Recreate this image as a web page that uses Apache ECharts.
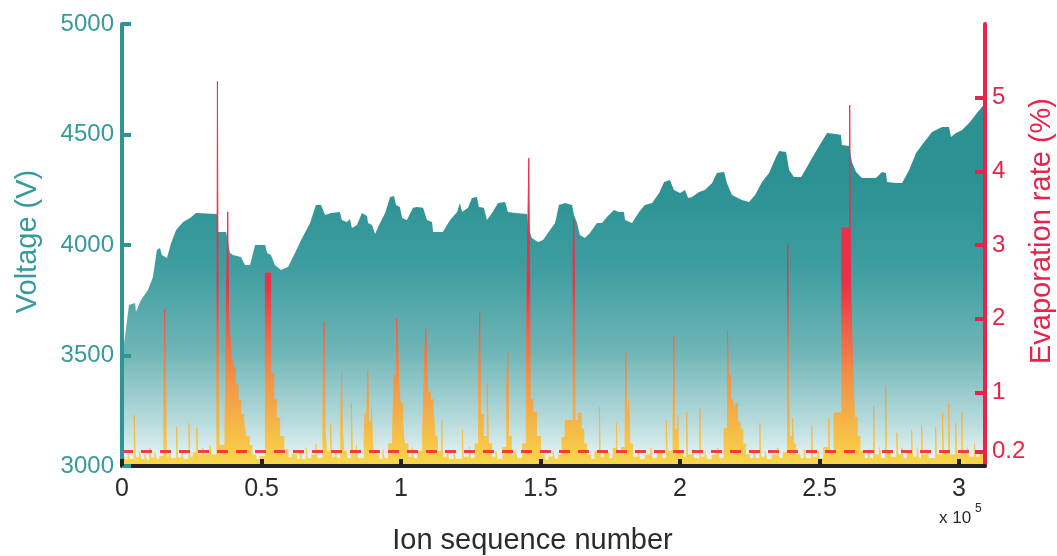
<!DOCTYPE html>
<html>
<head>
<meta charset="UTF-8">
<title>Voltage and evaporation rate</title>
<script src="https://cdn.jsdelivr.net/npm/echarts@6/dist/echarts.min.js"></script>
<style>
  html, body { margin: 0; padding: 0; background: #fff; }
  #main { width: 1057px; height: 556px; }
</style>
</head>
<body>
<div id="main"></div>
<script>
// ion number in thousands, voltage in V
var voltage = [
  [0, 3490], [0.9, 3570], [2.5, 3729], [4.7, 3738], [5.0, 3697], [6.8, 3751], [9.3, 3796],
  [11.1, 3855], [12.5, 3977], [13.6, 3986], [14.3, 3955], [16.1, 3941], [17.6, 4009],
  [19.4, 4068], [21.9, 4104], [24.4, 4122], [26.5, 4145], [34.0, 4140], [34.4, 4059],
  [37.3, 4059], [38.7, 3964], [39.8, 3955], [42.6, 3946], [44.1, 3910], [45.9, 3910],
  [47.7, 4000], [51.3, 4000], [52.0, 3964], [53.4, 3955], [54.8, 3910], [57.0, 3887],
  [59.5, 3900], [62.0, 3964], [64.2, 4023], [67.4, 4100], [69.5, 4181], [71.3, 4181],
  [72.8, 4136], [74.9, 4145], [78.1, 4149], [78.8, 4113], [80.6, 4104], [81.7, 4118],
  [82.4, 4077], [84.2, 4090], [86.0, 4145], [87.8, 4131], [88.2, 4100], [89.6, 4090],
  [90.7, 4050], [91.8, 4082], [94.3, 4145], [96.1, 4217], [97.5, 4222], [98.2, 4181],
  [99.6, 4172], [100.4, 4122], [102.1, 4113], [104.3, 4168], [105.7, 4172], [107.9, 4168],
  [109.3, 4113], [111.1, 4104], [111.5, 4059], [115.0, 4059], [117.6, 4113], [120.1, 4149],
  [121.1, 4190], [121.9, 4149], [124.0, 4168], [125.4, 4213], [127.2, 4217], [127.9, 4172],
  [129.7, 4168], [130.8, 4113], [132.6, 4145], [134.8, 4190], [137.3, 4195], [138.3, 4149],
  [140.9, 4145], [145.2, 4140], [145.5, 4082], [146.9, 4032], [149.1, 4014], [150.9, 4023],
  [153.4, 4068], [155.2, 4100], [156.6, 4181], [158.8, 4190], [161.3, 4181], [162.0, 4136],
  [163.1, 4100], [164.1, 4045], [165.9, 4032], [167.7, 4054], [170.2, 4100], [172.0, 4100],
  [173.8, 4127], [176.3, 4158], [178.1, 4149], [179.9, 4149], [180.3, 4113], [182.8, 4100],
  [185.3, 4149], [187.4, 4181], [190.0, 4190], [192.5, 4235], [194.3, 4285], [196.4, 4294],
  [197.8, 4249], [200.0, 4235], [201.8, 4249], [202.9, 4213], [204.3, 4217], [206.8, 4240],
  [208.9, 4249], [211.5, 4281], [213.2, 4326], [215.8, 4330], [216.8, 4281], [218.6, 4226],
  [222.2, 4204], [224.7, 4195], [226.9, 4226], [229.4, 4285], [231.9, 4326], [234.4, 4398],
  [235.5, 4425], [238.0, 4421], [239.1, 4339], [240.8, 4308], [243.4, 4308], [245.5, 4353],
  [247.3, 4394], [250.5, 4462], [252.7, 4507], [255.9, 4502], [257.7, 4498], [258.0, 4453],
  [260.6, 4448], [261.6, 4376], [263.1, 4330], [265.2, 4303], [270.2, 4303], [272.4, 4330],
  [273.8, 4326], [274.2, 4285], [277.4, 4281], [279.6, 4281], [282.1, 4339], [284.6, 4416],
  [286.7, 4453], [290.3, 4511], [293.9, 4534], [296.4, 4534], [297.1, 4489], [298.9, 4507],
  [301.1, 4520], [303.6, 4552], [306.4, 4597], [308.2, 4625], [309.3, 4643]
];

// ion number in thousands, evaporation rate in % (each value holds until the next ion number)
var evapRate = [
  [0, 0.08], [0.5, 0.14], [1.2, 0.08], [2.2, 0.16], [2.6, 0.09], [4.4, 0.69], [4.8, 0.11],
  [6.3, 0.2], [6.7, 0.09], [8.2, 0.15], [8.8, 0.08], [10.0, 0.24], [10.4, 0.11], [11.8, 0.18],
  [12.3, 0.09], [13.5, 0.13], [15.0, 1.34], [15.3, 2.13], [15.6, 1.34], [15.9, 0.12],
  [17.0, 0.22], [17.4, 0.1], [19.6, 0.53], [19.9, 0.11], [21.5, 0.2], [21.9, 0.09],
  [24.0, 0.58], [24.3, 0.12], [25.5, 0.18], [26.8, 0.51], [27.1, 0.15], [29.0, 0.24],
  [29.4, 0.15], [31.5, 0.28], [31.9, 0.15], [34.0, 1.39], [34.2, 5.22], [34.5, 1.39],
  [34.8, 0.28], [36.9, 0.5], [37.6, 2.65], [37.9, 3.45], [38.2, 2.08], [38.6, 1.8],
  [39.2, 1.5], [39.8, 1.34], [40.6, 1.1], [41.6, 0.89], [42.6, 0.7], [43.6, 0.62],
  [44.0, 0.5], [44.6, 0.4], [45.6, 0.28], [46.6, 0.15], [48.0, 0.09], [49.5, 0.13],
  [51.4, 2.62], [53.3, 1.26], [54.4, 0.9], [55.3, 0.65], [56.5, 0.4], [58.0, 0.22],
  [59.5, 0.11], [61.0, 0.16], [62.5, 0.09], [64.0, 0.2], [64.4, 0.09], [66.0, 0.25],
  [66.4, 0.1], [68.0, 0.15], [69.5, 0.3], [69.9, 0.1], [72.0, 0.6], [72.2, 1.57],
  [72.4, 1.95], [72.6, 1.57], [72.8, 0.5], [73.3, 0.2], [74.8, 0.58], [75.1, 0.12],
  [76.5, 0.2], [77.0, 0.1], [78.4, 0.5], [78.7, 1.27], [79.0, 0.5], [79.5, 0.2],
  [80.5, 0.1], [82.2, 0.85], [82.6, 0.15], [84.0, 0.28], [84.4, 0.1], [86.8, 0.4],
  [87.1, 0.72], [87.6, 0.5], [88.1, 1.3], [88.5, 0.6], [89.4, 0.8], [89.8, 0.3],
  [90.5, 0.15], [92.0, 0.09], [93.5, 0.22], [94.0, 0.1], [95.5, 0.3], [97.0, 0.5],
  [97.5, 1.23], [98.4, 2.01], [98.8, 1.66], [99.3, 1.0], [99.8, 0.85], [100.6, 0.6],
  [101.2, 0.3], [102.5, 0.12], [104.0, 0.25], [104.4, 0.1], [106.0, 0.2], [107.8, 0.5],
  [108.5, 1.5], [108.9, 1.86], [109.2, 1.5], [109.6, 1.0], [110.5, 0.9], [111.5, 0.8],
  [112.2, 0.4], [113.0, 0.2], [114.6, 0.62], [114.9, 0.12], [116.5, 0.22], [117.0, 0.09],
  [119.0, 0.18], [119.5, 0.09], [122.0, 0.49], [122.3, 0.12], [124.5, 0.26], [124.9, 0.1],
  [126.5, 0.3], [127.8, 1.12], [128.2, 2.08], [128.5, 0.7], [129.5, 0.4], [130.9, 1.12],
  [131.3, 0.3], [132.5, 0.12], [134.0, 0.2], [134.5, 0.09], [136.5, 0.25], [137.9, 1.1],
  [138.3, 1.53], [138.6, 0.4], [139.5, 0.15], [141.0, 0.22], [141.5, 0.1], [143.5, 0.3],
  [144.9, 1.0], [145.2, 2.58], [145.8, 4.18], [146.1, 2.58], [146.3, 0.9], [147.3, 0.73],
  [148.5, 0.4], [150.0, 0.15], [151.5, 0.08], [153.0, 0.12], [154.5, 0.2], [155.0, 0.09],
  [156.5, 0.15], [157.7, 0.39], [158.8, 0.62], [161.7, 2.96], [161.9, 3.35], [162.1, 2.96],
  [162.4, 0.62], [163.5, 0.72], [164.6, 0.5], [165.5, 0.3], [166.5, 0.15], [168.0, 0.09],
  [169.5, 0.2], [171.1, 0.8], [171.4, 0.12], [173.0, 0.18], [174.5, 0.1], [176.0, 0.24],
  [177.2, 0.58], [177.5, 0.15], [179.0, 0.25], [180.3, 0.5], [180.6, 1.54], [180.9, 0.6],
  [181.6, 0.89], [182.0, 0.3], [183.0, 0.12], [185.0, 0.2], [185.5, 0.09], [187.5, 0.15],
  [189.5, 0.25], [190.0, 0.1], [192.0, 0.18], [193.5, 0.1], [195.1, 0.62], [195.4, 0.2],
  [197.5, 0.6], [197.8, 1.77], [198.1, 0.5], [199.2, 0.69], [199.5, 0.2], [201.0, 0.12],
  [202.4, 0.73], [202.7, 0.15], [204.5, 0.22], [205.0, 0.1], [207.1, 0.78], [207.4, 0.12],
  [209.0, 0.2], [209.5, 0.09], [211.5, 0.15], [213.5, 0.25], [214.0, 0.1], [215.8, 0.51],
  [217.0, 1.84], [217.4, 1.23], [218.2, 0.9], [219.0, 0.8], [219.8, 0.85], [220.6, 0.6],
  [221.5, 0.5], [222.5, 0.3], [223.5, 0.15], [225.0, 0.1], [226.5, 0.22], [227.0, 0.1],
  [228.6, 0.58], [228.9, 0.12], [230.5, 0.2], [231.0, 0.09], [233.0, 0.15], [235.0, 0.25],
  [235.5, 0.1], [237.0, 0.18], [238.5, 1.0], [238.6, 3.01], [238.9, 1.0], [239.3, 0.4],
  [240.3, 0.65], [240.7, 0.3], [241.5, 0.15], [243.0, 0.1], [244.5, 0.22], [245.0, 0.1],
  [247.2, 0.55], [247.5, 0.12], [249.5, 0.2], [250.0, 0.1], [251.5, 0.25], [253.3, 0.65],
  [253.6, 0.2], [255.2, 0.72], [258.0, 3.23], [260.8, 4.9], [261.1, 2.49], [261.8, 1.47],
  [262.5, 0.66], [263.5, 0.4], [264.5, 0.2], [266.0, 0.1], [267.5, 0.22], [268.0, 0.1],
  [269.4, 0.82], [269.7, 0.15], [271.5, 0.25], [272.0, 0.1], [273.7, 1.09], [274.0, 0.2],
  [275.5, 0.12], [277.7, 0.45], [278.0, 0.15], [279.5, 0.25], [280.0, 0.1], [281.5, 0.2],
  [283.0, 0.49], [283.3, 0.12], [285.0, 0.25], [285.5, 0.1], [286.6, 0.55], [286.9, 0.15],
  [288.5, 0.22], [289.0, 0.1], [291.6, 0.53], [291.9, 0.15], [294.1, 0.72], [294.4, 0.2],
  [296.3, 0.85], [296.6, 0.15], [298.8, 0.58], [299.1, 0.15], [301.0, 0.73], [301.3, 0.18],
  [303.0, 0.25], [303.5, 0.12], [305.5, 0.3], [306.0, 0.12], [307.5, 0.2], [309.3, 0.2]
];

var rateTicks = [0.2, 1, 2, 3, 4, 5];
var threshold = 0.2;

var teal = '#2E9597';
var tealText = '#36999B';
var crimson = '#E8234A';
var font = 'Liberation Sans, Arial, sans-serif';

function toIons(list) {
  return list.map(function (p) { return [p[0] * 1000, p[1]]; });
}

// warm gradient fixed to the plot height, so colour follows the rate value
function rateGradient() {
  return {
    type: 'linear', x: 0, y: 466, x2: 0, y2: 285, global: true,
    colorStops: [
      { offset: 0, color: '#F8D84C' },
      { offset: 0.15, color: '#F6C248' },
      { offset: 0.47, color: '#F29447' },
      { offset: 0.78, color: '#EF5C48' },
      { offset: 1, color: '#EB3049' }
    ]
  };
}

var myChart = echarts.init(document.getElementById('main'));
myChart.setOption({
  animation: false,
  textStyle: { fontFamily: font },
  grid: { left: 122, right: 72, top: 24, bottom: 90, outerBoundsMode: 'none' },
  xAxis: {
    type: 'value',
    min: 0,
    max: 309300,
    interval: 50000,
    z: 10,
    name: 'Ion sequence number',
    nameLocation: 'middle',
    nameGap: 60,
    nameTextStyle: { fontSize: 29, color: '#2b2b2b', fontFamily: font, padding: [0, 42, 0, 0] },
    axisLine: { lineStyle: { color: '#222', width: 4 } },
    axisTick: { inside: true, length: 7, lineStyle: { color: '#222', width: 4 } },
    axisLabel: {
      fontSize: 25, color: '#2b2b2b', margin: 11, showMaxLabel: false,
      formatter: function (v) { return String(v / 100000); }
    },
    splitLine: { show: false }
  },
  yAxis: [{
    type: 'value',
    min: 3000,
    max: 5000,
    interval: 500,
    z: 10,
    name: 'Voltage (V)',
    nameLocation: 'middle',
    nameRotate: 90,
    nameGap: 80,
    nameTextStyle: { fontSize: 29, color: tealText, fontFamily: font, padding: [0, 0, 0, 7] },
    axisLine: { show: true, lineStyle: { color: teal, width: 4 } },
    axisTick: { show: true, inside: true, length: 9, lineStyle: { color: teal, width: 4 } },
    axisLabel: {
      fontSize: 24, color: tealText, margin: 8,
      formatter: function (v) { return String(v); }
    },
    splitLine: { show: false }
  }, {
    type: 'value',
    min: 0,
    max: 6,
    position: 'right',
    z: 10,
    axisLine: { show: true, lineStyle: { color: crimson, width: 4 } },
    axisTick: { show: true, inside: true, length: 10, customValues: rateTicks, lineStyle: { color: crimson, width: 4 } },
    axisLabel: { fontSize: 24, color: crimson, margin: 7, customValues: rateTicks },
    splitLine: { show: false }
  }],
  graphic: [
    {
      type: 'text', x: 1042, y: 231, rotation: Math.PI / 2,
      style: {
        text: 'Evaporation rate (%)', fontSize: 29, fill: crimson, fontFamily: font,
        textAlign: 'center', textVerticalAlign: 'middle'
      }
    },
    { type: 'text', left: 939, top: 510, style: { text: 'x 10', fontSize: 17, fill: '#2b2b2b', fontFamily: font } },
    { type: 'text', left: 975, top: 503, style: { text: '5', fontSize: 12, fill: '#2b2b2b', fontFamily: font } }
  ],
  series: [{
    name: 'Voltage',
    type: 'line',
    yAxisIndex: 0,
    data: toIons(voltage),
    showSymbol: false,
    lineStyle: { width: 0 },
    areaStyle: {
      opacity: 1,
      color: {
        type: 'linear', x: 0, y: 180, x2: 0, y2: 466, global: true,
        colorStops: [
          { offset: 0, color: '#2B9192' },
          { offset: 0.3, color: '#3D9D9F' },
          { offset: 0.6, color: '#6FB5B7' },
          { offset: 0.85, color: '#B9DCDD' },
          { offset: 1, color: '#F0F8F8' }
        ]
      }
    },
    z: 2
  }, {
    name: 'Evaporation rate',
    type: 'line',
    yAxisIndex: 1,
    step: 'end',
    data: toIons(evapRate),
    showSymbol: false,
    lineStyle: { width: 1, color: rateGradient() },
    areaStyle: { opacity: 1, color: rateGradient() },
    markLine: {
      silent: true,
      symbol: 'none',
      label: { show: false },
      lineStyle: { color: '#F33C3C', width: 3, type: [11, 8] },
      data: [{ yAxis: threshold }]
    },
    z: 3
  }]
});
</script>
</body>
</html>
